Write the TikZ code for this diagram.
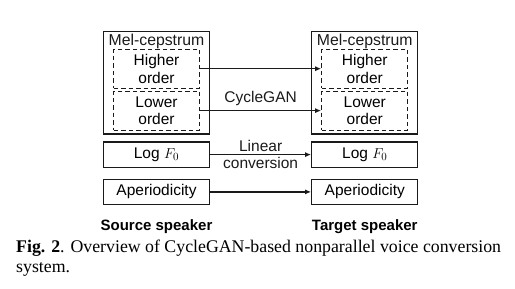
\documentclass[tikz,border=0pt]{standalone}
\usepackage{fontspec}
\setmainfont{Liberation Serif}
\setsansfont{Liberation Sans}
\usepackage{tikz}
\usetikzlibrary{
  arrows.meta,
  positioning,
  calc
}
\definecolor{InkBlack}{HTML}{1A1A1A}
\tikzset{
  % Outer feature box (mel-cepstrum)
  melbox/.style={
    rectangle, draw=InkBlack, line width=1.3pt,
    minimum width=106pt, minimum height=102.3pt, inner sep=0pt
  },
  % Dashed sub-box inside the mel-cepstrum box
  subbox/.style={
    rectangle, draw=InkBlack, line width=1.2pt, dash pattern=on 4.5pt off 3pt,
    minimum width=86pt, minimum height=39pt, inner sep=0pt,
    align=center, font=\sffamily\fontsize{15.5}{17.7}\selectfont
  },
  % Single-row feature box
  featbox/.style={
    rectangle, draw=InkBlack, line width=1.3pt,
    minimum width=106pt, minimum height=25.3pt, inner sep=0pt,
    font=\sffamily\fontsize{15.5}{17}\selectfont
  },
  % Plain text
  txt/.style={inner sep=0pt, font=\sffamily\fontsize{15.8}{17}\selectfont, text=InkBlack},
  % Speaker caption
  spk/.style={inner sep=0pt, font=\sffamily\bfseries\fontsize{15}{17}\selectfont},
  % Arrow
  arr/.style={
    -{Latex[length=6pt,width=5pt]},
    line width=1.3pt, color=InkBlack
  },
  % Edge label
  lbl/.style={font=\sffamily\fontsize{15.5}{16.7}\selectfont, align=center, inner sep=0pt}
}
\begin{document}
\begin{tikzpicture}[x=1pt, y=-1pt]
  \useasboundingbox (0,0) rectangle (515,289);

  % source speaker
  \node[melbox] (srcmel) at (156.5,82.8) {};
  \node[txt, anchor=base] (srcmeltxt) at ([yshift=-14.3pt]srcmel.north) {Mel-cepstrum};
  \node[subbox, below=17.6pt of srcmel.north] (srchigh) {Higher\\order};
  \node[subbox, below=1.7pt of srchigh]       (srclow)  {Lower\\order};
  \node[featbox, below=6.7pt of srcmel]       (srcf0)   {Log $F_0$};
  \node[featbox, below=10.7pt of srcf0]       (srcap)   {Aperiodicity};
  \node[spk, anchor=base] (srcspk) at ([yshift=-25.7pt]srcap.south) {Source speaker};

  % target speaker
  \node[melbox, right=101pt of srcmel] (tgtmel) {};
  \node[txt, anchor=base] (tgtmeltxt) at ([yshift=-14.3pt]tgtmel.north) {Mel-cepstrum};
  \node[subbox, below=17.6pt of tgtmel.north] (tgthigh) {Higher\\order};
  \node[subbox, below=1.7pt of tgthigh]       (tgtlow)  {Lower\\order};
  \node[featbox, below=6.7pt of tgtmel]       (tgtf0)   {Log $F_0$};
  \node[featbox, below=10.7pt of tgtf0]       (tgtap)   {Aperiodicity};
  \node[spk, anchor=base] (tgtspk) at ([yshift=-25.7pt]tgtap.south) {Target speaker};

  \draw[arr] (srchigh) -- (tgthigh);
  \draw[arr] (srclow)  -- node[lbl, above=4pt] {CycleGAN} (tgtlow);
  \draw[arr] (srcf0)   -- node[lbl, midway] {Linear\\conversion} (tgtf0);
  \draw[arr] (srcap)   -- (tgtap);

  % caption
  \node[anchor=north west, inner sep=0pt, align=left,
        font=\fontsize{17.8}{20}\selectfont] (caption) at (16,240)
    {\textbf{Fig. 2}. Overview of CycleGAN-based nonparallel voice conversion\\system.};
\end{tikzpicture}
\end{document}
